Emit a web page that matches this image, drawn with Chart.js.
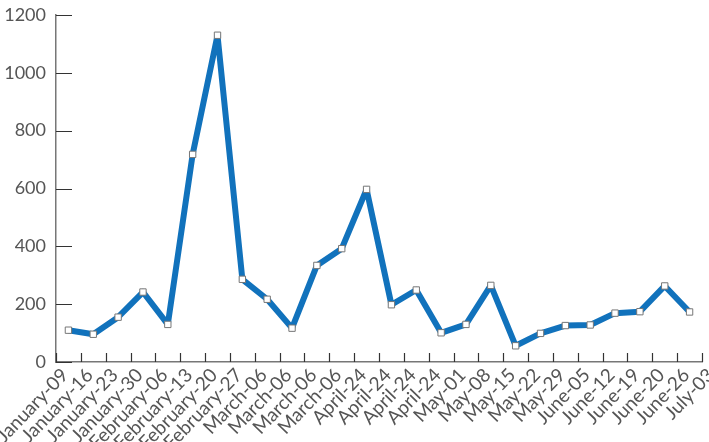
<!DOCTYPE html>
<html>
<head>
<meta charset="utf-8">
<script src="https://cdn.jsdelivr.net/npm/chart.js@4/dist/chart.umd.min.js"></script>
<style>
  html, body { margin: 0; padding: 0; background: #fff; }
  #wrap { width: 709px; height: 442px; }
</style>
</head>
<body>
<div id="wrap"><canvas id="lineChart"></canvas></div>
<script>
// week labels (one per tick) and weekly values (one per interval)
const weekLabels = [
  'January-09', 'January-16', 'January-23', 'January-30', 'February-06',
  'February-13', 'February-20', 'February-27', 'March-06', 'March-06',
  'March-06', 'March-06', 'April-24', 'April-24', 'April-24', 'April-24',
  'May-01', 'May-08', 'May-15', 'May-22', 'May-29', 'June-05', 'June-12',
  'June-19', 'June-20', 'June-26', 'July-03'
];
const weeklyValues = [
  110, 96, 155, 242, 130, 718, 1130, 286, 217, 117,
  334, 392, 597, 198, 249, 101, 130, 265, 56, 99,
  126, 128, 169, 174, 263, 173
];
const yTicks = [0, 200, 400, 600, 800, 1000, 1200];

// ticks drawn inward from the axes
const innerTicks = {
  id: 'innerTicks',
  afterDraw(chart) {
    const c = chart.ctx;
    const area = chart.chartArea;
    const xs = chart.scales.x;
    const ys = chart.scales.y;
    c.save();
    c.strokeStyle = '#333';
    c.lineWidth = 1.2;
    c.beginPath();
    yTicks.forEach(v => {
      const y = Math.round(ys.getPixelForValue(v)) + 0.5;
      c.moveTo(area.left, y);
      c.lineTo(area.left + 16, y);
    });
    weekLabels.forEach((_, i) => {
      const x = Math.round(xs.getPixelForValue(i)) + 0.5;
      c.moveTo(x, area.bottom);
      c.lineTo(x, area.bottom - 9);
    });
    c.stroke();
    c.restore();
  }
};

const ctx = document.getElementById('lineChart').getContext('2d');
new Chart(ctx, {
  type: 'line',
  data: {
    datasets: [{
      data: weeklyValues.map((v, i) => ({ x: i + 0.5, y: v })),
      borderColor: '#1172bc',
      borderWidth: 6,
      borderJoinStyle: 'round',
      tension: 0,
      pointStyle: 'rect',
      pointRadius: 4.5,
      pointBackgroundColor: '#fff',
      pointBorderColor: '#777',
      pointBorderWidth: 1
    }]
  },
  options: {
    responsive: true,
    maintainAspectRatio: false,
    animation: false,
    layout: { padding: { top: 15, right: 7, left: 0, bottom: 0 } },
    plugins: { legend: { display: false }, tooltip: { enabled: false } },
    scales: {
      x: {
        type: 'linear',
        min: 0,
        max: weekLabels.length - 1,
        afterFit: s => { s.height = 80; s.paddingLeft = 0; s.paddingRight = 0; },
        afterBuildTicks: s => { s.ticks = weekLabels.map((_, i) => ({ value: i })); },
        grid: { drawOnChartArea: false, drawTicks: false },
        border: { display: true, color: '#777', width: 1.5 },
        ticks: {
          autoSkip: false,
          maxRotation: 46,
          minRotation: 46,
          padding: 2,
          labelOffset: 9,
          color: '#555',
          font: { family: 'Lato', size: 19 },
          callback: v => weekLabels[v]
        }
      },
      y: {
        min: 0,
        max: 1200,
        afterFit: s => { s.width = 56; s.paddingTop = 0; s.paddingBottom = 0; },
        afterBuildTicks: s => { s.ticks = yTicks.map(v => ({ value: v })); },
        grid: { drawOnChartArea: false, drawTicks: false },
        border: { display: true, color: '#777', width: 1.5 },
        ticks: {
          padding: 10,
          color: '#555',
          font: { family: 'Lato', size: 18 },
          callback: v => String(v)
        }
      }
    }
  },
  plugins: [innerTicks]
});
</script>
</body>
</html>
